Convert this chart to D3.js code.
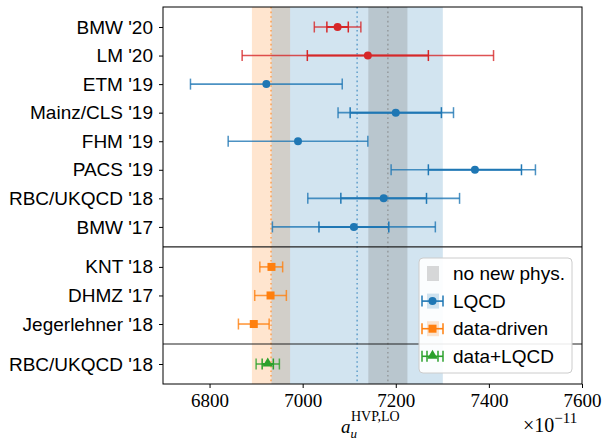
<!DOCTYPE html>
<html>
<head>
<meta charset="utf-8">
<script src="https://cdn.jsdelivr.net/npm/d3@7"></script>
<style>
  body { margin: 0; background: #fff; }
  svg { display: block; }
</style>
</head>
<body>
<div id="chart"></div>
<script>
//
// data
//
var labels = ["BMW '20", "LM '20", "ETM '19", "Mainz/CLS '19", "FHM '19", "PACS '19",
  "RBC/UKQCD '18", "BMW '17", "KNT '18", "DHMZ '17", "Jegerlehner '18", "RBC/UKQCD '18"]
var groups = [0, 0, 0, 0, 0, 0, 0, 0, 1, 1, 1, 2]
var kinds = ["new", "new", "lqcd", "lqcd", "lqcd", "lqcd", "lqcd", "lqcd", "data", "data", "data", "comb"]
var values = [7075, 7140, 6922, 7200, 6990, 7370, 7174, 7110, 6933, 6931, 6895, 6925]
var innerErr = [23, 130, 0, 98, 0, 100, 92, 75, 0, 0, 0, 12]
var outerLo = [50, 270, 163, 124, 150, 180, 163, 175, 25, 34, 33, 25]
var outerHi = [50, 270, 163, 124, 150, 130, 163, 175, 24, 34, 33, 25]
// bands: center and half width
var bandNames = ["data", "lqcd", "nonew"]
var bandCenter = [6932, 7117, 7183]
var bandHalf = [41, 184, 42]
var xTicks = [6800, 7000, 7200, 7400, 7600]
var legendLabels = ["no new phys.", "LQCD", "data-driven", "data+LQCD"]
var legendKinds = ["nonew", "lqcd", "data", "comb"]
//
// styles
//
var colors = {new: '#d62728', lqcd: '#1f77b4', data: '#ff7f0e', comb: '#2ca02c', nonew: '#808080'}
var bandOpacity = {data: 0.2, lqcd: 0.2, nonew: 0.3}
var sans = '"Liberation Sans", Arial, Helvetica, sans-serif'
var serif = '"Liberation Serif", "Times New Roman", serif'
//
// layout
//
var W = 603, H = 440
var m = {left: 163, right: 21, top: 7, bottom: 56}
var gap = 1.4
// row positions: groups separated by a wider gap
var pos = [], seps = [], p = 0
for (var i = 0; i < labels.length; i++) {
  if (i > 0) {
    if (groups[i] != groups[i - 1]) {
      seps.push(p + gap / 2)
      p += gap
    } else p += 1
  }
  pos.push(p)
}
var svg = d3.select('#chart').append('svg').attr('width', W).attr('height', H)
var x = d3.scaleLinear().domain([6700, 7600]).range([m.left, W - m.right])
var y = d3.scaleLinear().domain([-0.7, pos[pos.length - 1] + 0.7]).range([m.top, H - m.bottom])
var y0 = m.top, y1 = H - m.bottom
//
// bands
//
var plot = svg.append('g')
bandNames.forEach(function(b, i) {
  plot.append('rect')
    .attr('x', x(bandCenter[i] - bandHalf[i]))
    .attr('y', y0)
    .attr('width', x(bandCenter[i] + bandHalf[i]) - x(bandCenter[i] - bandHalf[i]))
    .attr('height', y1 - y0)
    .attr('fill', colors[b])
    .attr('fill-opacity', bandOpacity[b])
})
bandNames.forEach(function(b, i) {
  plot.append('line')
    .attr('x1', x(bandCenter[i])).attr('x2', x(bandCenter[i]))
    .attr('y1', y0).attr('y2', y1)
    .attr('stroke', colors[b])
    .attr('stroke-opacity', 0.6)
    .attr('stroke-width', 1.6)
    .attr('stroke-dasharray', '1.6,3')
})
//
// separators
//
seps.forEach(function(s) {
  plot.append('line')
    .attr('x1', m.left).attr('x2', W - m.right)
    .attr('y1', y(s)).attr('y2', y(s))
    .attr('stroke', '#222').attr('stroke-width', 1.2)
})
//
// error bars
//
var capH = 5.5
function cap(g, xv, yv, col, op) {
  g.append('line')
    .attr('x1', xv).attr('x2', xv)
    .attr('y1', yv - capH).attr('y2', yv + capH)
    .attr('stroke', col).attr('stroke-width', 1.5).attr('stroke-opacity', op)
}
function marker(g, kind, cx, cy, s) {
  var col = colors[kind]
  if (kind == 'data') {
    g.append('rect').attr('x', cx - s).attr('y', cy - s).attr('width', 2 * s).attr('height', 2 * s).attr('fill', col)
  } else if (kind == 'comb') {
    var t = d3.symbol().type(d3.symbolTriangle).size(s * s * 3)
    g.append('path').attr('d', t()).attr('transform', 'translate(' + cx + ',' + (cy - 0.5) + ')').attr('fill', col)
  } else {
    g.append('circle').attr('cx', cx).attr('cy', cy).attr('r', s).attr('fill', col)
  }
}
var bars = svg.append('g')
labels.forEach(function(d, i) {
  var col = colors[kinds[i]]
  var cy = y(pos[i])
  var lo = x(values[i] - outerLo[i]), hi = x(values[i] + outerHi[i])
  bars.append('line')
    .attr('x1', lo).attr('x2', hi).attr('y1', cy).attr('y2', cy)
    .attr('stroke', col).attr('stroke-width', 1.6).attr('stroke-opacity', 0.8)
  cap(bars, lo, cy, col, 0.8)
  cap(bars, hi, cy, col, 0.8)
  if (innerErr[i] > 0) {
    var ilo = x(values[i] - innerErr[i]), ihi = x(values[i] + innerErr[i])
    bars.append('line')
      .attr('x1', ilo).attr('x2', ihi).attr('y1', cy).attr('y2', cy)
      .attr('stroke', col).attr('stroke-width', 2)
    cap(bars, ilo, cy, col, 1)
    cap(bars, ihi, cy, col, 1)
  }
  marker(bars, kinds[i], x(values[i]), cy, 4)
})
//
// frame and axes
//
svg.append('rect')
  .attr('x', m.left).attr('y', y0)
  .attr('width', W - m.right - m.left).attr('height', y1 - y0)
  .attr('fill', 'none').attr('stroke', '#000').attr('stroke-width', 1)
var yAxis = svg.append('g')
  .attr('transform', 'translate(' + m.left + ',0)')
  .call(d3.axisLeft(y).tickValues(pos).tickSize(4).tickPadding(6)
    .tickFormat(function(d, i) { return labels[i] }))
yAxis.select('.domain').remove()
yAxis.selectAll('text').style('font-family', sans).style('font-size', '19px').attr('fill', '#000')
var xAxis = svg.append('g')
  .attr('transform', 'translate(0,' + y1 + ')')
  .call(d3.axisBottom(x).tickValues(xTicks).tickSize(4).tickPadding(6).tickFormat(d3.format('d')))
xAxis.select('.domain').remove()
xAxis.selectAll('text').style('font-family', serif).style('font-size', '19px').attr('fill', '#000')
//
// axis label
//
var lx = 350
svg.append('text').attr('x', lx - 9).attr('y', 433)
  .style('font-family', serif).style('font-size', '19px').style('font-style', 'italic').text('a')
svg.append('text').attr('x', lx + 0.5).attr('y', 438)
  .style('font-family', serif).style('font-size', '13px').style('font-style', 'italic').text('u')
svg.append('text').attr('x', lx + 1).attr('y', 421)
  .style('font-family', serif).style('font-size', '14px').text('HVP,LO')
var ox = svg.append('text').attr('x', W - 80).attr('y', 432)
  .style('font-family', serif).style('font-size', '20px')
ox.append('tspan').text('\u00d710')
ox.append('tspan').attr('dy', -9).style('font-size', '15px').text('\u221211')
//
// legend
//
var lg = svg.append('g').attr('transform', 'translate(419,258)')
lg.append('rect').attr('width', 153).attr('height', 115).attr('rx', 4)
  .attr('fill', '#fff').attr('fill-opacity', 0.9)
  .attr('stroke', '#cccccc').attr('stroke-width', 1)
legendLabels.forEach(function(d, i) {
  var k = legendKinds[i]
  var cy = 15.5 + i * 27.6
  if (k != 'comb') {
    lg.append('rect').attr('x', 8).attr('y', cy - 7.5).attr('width', 12).attr('height', 15)
      .attr('fill', colors[k]).attr('fill-opacity', bandOpacity[k])
  }
  if (k != 'nonew') {
    var col = colors[k]
    lg.append('line').attr('x1', 3).attr('x2', 24).attr('y1', cy).attr('y2', cy)
      .attr('stroke', col).attr('stroke-width', 1.6)
    cap(lg, 3, cy, col, 1)
    cap(lg, 24, cy, col, 1)
    if (k == 'comb') {
      cap(lg, 8, cy, col, 1)
      cap(lg, 19, cy, col, 1)
    }
    marker(lg, k, 13.5, cy, 4)
  }
  lg.append('text').attr('x', 34).attr('y', cy).attr('dy', '0.35em')
    .style('font-family', sans).style('font-size', '19px').text(d)
})
</script>
</body>
</html>
